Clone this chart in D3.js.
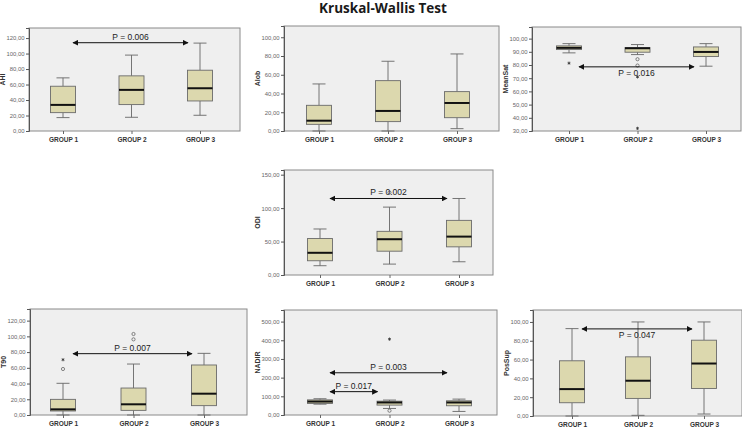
<!DOCTYPE html>
<html>
<head>
<meta charset="utf-8">
<script src="https://cdn.jsdelivr.net/npm/d3@7"></script>
<style>
  html, body { margin: 0; padding: 0; background: #ffffff; }
  svg { display: block; }
</style>
</head>
<body>
<svg id="chart" width="742" height="428"></svg>
<script>
// ---------------- DATA ----------------
const title = "Kruskal-Wallis Test";
const groups = ["GROUP 1", "GROUP 2", "GROUP 3"];

// Box summaries per group: [lower whisker, Q1, median, Q3, upper whisker]
const ahiBoxes     = [[17.3, 23.7, 33.7, 57.8, 68.6], [17.7, 34.1, 53.1, 71.2, 98.0], [20.3, 38.8, 55.2, 78.5, 113.5]];
const alobBoxes    = [[0.0, 7.1, 11.0, 27.4, 50.2],   [0.0, 10.0, 21.4, 53.7, 74.4],  [2.5, 14.2, 29.9, 42.0, 82.2]];
const meanSatBoxes = [[89.2, 91.7, 93.0, 94.5, 96.2], [87.9, 89.7, 92.7, 93.2, 95.5], [79.1, 86.4, 89.9, 93.7, 96.2]];
const odiBoxes     = [[13.9, 21.3, 33.2, 54.5, 68.8], [16.3, 35.6, 53.5, 65.3, 101.5], [19.8, 42.1, 57.4, 81.7, 114.4]];
const t90Boxes     = [[0.0, 5.1, 7.2, 19.9, 40.3],    [0.0, 5.9, 13.6, 34.3, 64.8],   [0.0, 11.9, 27.1, 63.6, 78.4]];
const nadirBoxes   = [[58, 62, 72, 81, 87],           [35, 53, 67, 74, 80],           [19, 49.5, 67, 76, 85]];
const posSupBoxes  = [[0.0, 14.1, 28.6, 58.7, 92.9],  [0.7, 18.7, 37.5, 62.9, 100.0], [2.1, 29.3, 55.8, 80.6, 100.0]];

// Outliers: [group, value, kind]  kind: "o" circle, "*" extreme
const meanSatOutliers = [["GROUP 1", 81.4, "*"], ["GROUP 2", 84.4, "o"], ["GROUP 2", 79.6, "o"], ["GROUP 2", 71.0, "*"], ["GROUP 2", 32.0, "*"]];
const odiOutliers     = [["GROUP 2", 123.3, "o"]];
const t90Outliers     = [["GROUP 1", 58.5, "o"], ["GROUP 1", 70.3, "*"], ["GROUP 2", 96.2, "o"], ["GROUP 2", 103.0, "o"]];
const nadirOutliers   = [["GROUP 2", 23, "o"], ["GROUP 2", 406, "*"]];

// Y tick values
const ahiTicks     = [0, 20, 40, 60, 80, 100, 120];
const alobTicks    = [0, 20, 40, 60, 80, 100];
const meanSatTicks = [30, 40, 50, 60, 70, 80, 90, 100];
const odiTicks     = [0, 50, 100, 150];
const t90Ticks     = [0, 20, 40, 60, 80, 100, 120];
const nadirTicks   = [0, 100, 200, 300, 400, 500];
const posSupTicks  = [0, 20, 40, 60, 80, 100];

// Pairwise test annotations: [label, from group, to group, value level]
const ahiTests     = [["P = 0.006", "GROUP 1", "GROUP 3", 114]];
const meanSatTests = [["P = 0.016", "GROUP 1", "GROUP 3", 78.6]];
const odiTests     = [["P = 0.002", "GROUP 1", "GROUP 3", 114.4]];
const t90Tests     = [["P = 0.007", "GROUP 1", "GROUP 3", 78]];
const nadirTests   = [["P = 0.003", "GROUP 1", "GROUP 3", 226], ["P = 0.017", "GROUP 1", "GROUP 2", 125]];
const posSupTests  = [["P = 0.047", "GROUP 1", "GROUP 3", 92.6]];

// ---------------- LAYOUT ----------------
const panels = [
  { name: "AHI",     boxes: ahiBoxes,     outliers: [],              ticks: ahiTicks,     tests: ahiTests,     domain: [0, 133],   frame: [29, 28, 240, 131],   cx: [63, 200],  textBelow: false },
  { name: "Alob",    boxes: alobBoxes,    outliers: [],              ticks: alobTicks,    tests: [],           domain: [0, 112],   frame: [284, 26, 499, 131],  cx: [319, 457], textBelow: false },
  { name: "MeanSat", boxes: meanSatBoxes, outliers: meanSatOutliers, ticks: meanSatTicks, tests: meanSatTests, domain: [30, 108.8], frame: [532, 27, 741, 131], cx: [569, 706], textBelow: true },
  { name: "ODI",     boxes: odiBoxes,     outliers: odiOutliers,     ticks: odiTicks,     tests: odiTests,     domain: [0, 157],   frame: [284, 170, 493, 275], cx: [320, 459], textBelow: false },
  { name: "T90",     boxes: t90Boxes,     outliers: t90Outliers,     ticks: t90Ticks,     tests: t90Tests,     domain: [0, 134.8], frame: [30, 309, 247, 415],  cx: [63, 204],  textBelow: false },
  { name: "NADIR",   boxes: nadirBoxes,   outliers: nadirOutliers,   ticks: nadirTicks,   tests: nadirTests,   domain: [0, 562],   frame: [284, 310, 497, 415], cx: [320, 459], textBelow: false },
  { name: "PosSup",  boxes: posSupBoxes,  outliers: [],              ticks: posSupTicks,  tests: posSupTests,  domain: [0, 112.7], frame: [533, 310, 742, 416], cx: [572, 704], textBelow: true }
];

const boxW = 25, capW = 13;
const fmt = v => d3.format(".2f")(v).replace(".", ",");

const svg = d3.select("#chart");
svg.append("rect").attr("width", 742).attr("height", 428).attr("fill", "#ffffff");

svg.append("text")
  .attr("x", 383).attr("y", 13)
  .attr("text-anchor", "middle")
  .attr("font-family", "'Open Sans', 'Liberation Sans', sans-serif")
  .attr("font-weight", "bold")
  .attr("font-size", 13.5)
  .attr("fill", "#1a1a1a")
  .text(title);

const defs = svg.append("defs");
defs.append("marker")
  .attr("id", "arrowhead")
  .attr("viewBox", "0 0 10 10")
  .attr("refX", 9).attr("refY", 5)
  .attr("markerWidth", 6).attr("markerHeight", 6)
  .attr("markerUnits", "userSpaceOnUse")
  .attr("orient", "auto-start-reverse")
  .append("path").attr("d", "M0,0 L10,5 L0,10 z").attr("fill", "#111");

panels.forEach(p => {
  const [L, T, R, B] = p.frame;
  const g = svg.append("g");
  const x = d3.scalePoint().domain(groups).range(p.cx);
  const y = d3.scaleLinear().domain(p.domain).range([B, T]);

  // plot background and frame
  g.append("rect").attr("x", L).attr("y", T).attr("width", R - L).attr("height", B - T)
    .attr("fill", "#efefef").attr("stroke", "#8a8a8a").attr("stroke-width", 1);

  // y axis
  const yAxis = d3.axisLeft(y).tickValues(p.ticks).tickFormat(fmt).tickSize(3).tickPadding(1.5);
  const ya = g.append("g").attr("transform", `translate(${L},0)`).call(yAxis);
  ya.select(".domain").attr("stroke", "#555");
  ya.selectAll(".tick line").attr("stroke", "#555");
  ya.selectAll(".tick text").attr("font-family", "'Liberation Sans', Arial, sans-serif")
    .attr("font-size", 5.9).attr("fill", "#666");

  // x axis
  const xAxis = d3.axisBottom(x).tickSize(3).tickPadding(3);
  const xa = g.append("g").attr("transform", `translate(0,${B})`).call(xAxis);
  xa.select(".domain").remove();
  xa.selectAll(".tick line").attr("stroke", "#666");
  xa.selectAll(".tick text").attr("font-family", "'Liberation Sans', Arial, sans-serif")
    .attr("font-weight", "bold").attr("font-size", 6.5).attr("fill", "#333");

  // y label
  g.append("text")
    .attr("transform", `translate(${L - 24},${(T + B) / 2}) rotate(-90)`)
    .attr("text-anchor", "middle")
    .attr("font-family", "'Liberation Sans', Arial, sans-serif")
    .attr("font-weight", "bold").attr("font-size", 7).attr("fill", "#333")
    .text(p.name);

  // boxes
  groups.forEach((grp, i) => {
    const s = p.boxes[i];
    const cx = x(grp);
    const bg = g.append("g");
    bg.append("line").attr("x1", cx).attr("x2", cx).attr("y1", y(s[0])).attr("y2", y(s[1])).attr("stroke", "#666").attr("stroke-width", 0.9);
    bg.append("line").attr("x1", cx).attr("x2", cx).attr("y1", y(s[3])).attr("y2", y(s[4])).attr("stroke", "#666").attr("stroke-width", 0.9);
    bg.append("line").attr("x1", cx - capW / 2).attr("x2", cx + capW / 2).attr("y1", y(s[0])).attr("y2", y(s[0])).attr("stroke", "#666").attr("stroke-width", 0.9);
    bg.append("line").attr("x1", cx - capW / 2).attr("x2", cx + capW / 2).attr("y1", y(s[4])).attr("y2", y(s[4])).attr("stroke", "#666").attr("stroke-width", 0.9);
    bg.append("rect").attr("x", cx - boxW / 2).attr("width", boxW)
      .attr("y", y(s[3])).attr("height", y(s[1]) - y(s[3]))
      .attr("fill", "#dcd8ae").attr("stroke", "#6a6a6a").attr("stroke-width", 0.9);
    bg.append("line").attr("x1", cx - boxW / 2).attr("x2", cx + boxW / 2)
      .attr("y1", y(s[2])).attr("y2", y(s[2])).attr("stroke", "#111").attr("stroke-width", 2);
  });

  // outliers
  p.outliers.forEach(([grp, v, kind]) => {
    if (kind === "o") {
      g.append("circle").attr("cx", x(grp)).attr("cy", y(v)).attr("r", 1.6)
        .attr("fill", "none").attr("stroke", "#555").attr("stroke-width", 0.7);
    } else {
      g.append("path").attr("transform", `translate(${x(grp)},${y(v)})`)
        .attr("d", d3.symbol().type(d3.symbolAsterisk).size(7)())
        .attr("fill", "none").attr("stroke", "#333").attr("stroke-width", 0.8);
    }
  });

  // pairwise test arrows
  p.tests.forEach(([label, g1, g2, v]) => {
    const x1 = x(g1) + 10, x2 = x(g2) - 12, yy = y(v);
    g.append("line").attr("x1", x1).attr("x2", x2).attr("y1", yy).attr("y2", yy)
      .attr("stroke", "#111").attr("stroke-width", 1)
      .attr("marker-start", "url(#arrowhead)").attr("marker-end", "url(#arrowhead)");
    g.append("text")
      .attr("x", (x1 + x2) / 2).attr("y", p.textBelow ? yy + 9 : yy - 3)
      .attr("text-anchor", "middle")
      .attr("font-family", "'Liberation Sans', Arial, sans-serif")
      .attr("font-size", 8.5).attr("fill", "#222")
      .text(label);
  });
});
</script>
</body>
</html>
